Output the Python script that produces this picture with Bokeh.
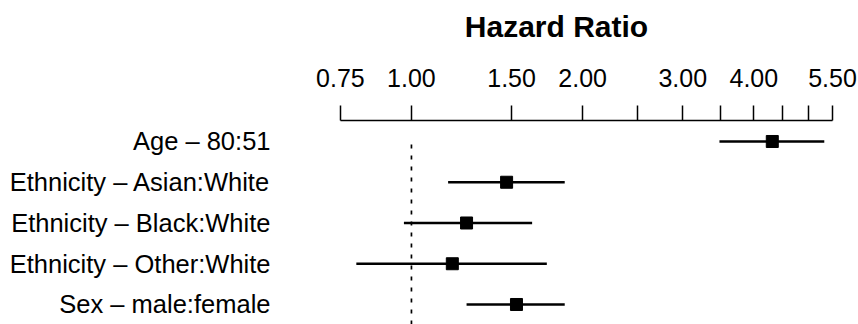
from bokeh.plotting import figure
from bokeh.models import Range1d, FixedTicker
from bokeh.embed import file_html
from bokeh.resources import INLINE

# ---- data ----
labels = ["Age – 80:51", "Ethnicity – Asian:White", "Ethnicity – Black:White",
          "Ethnicity – Other:White", "Sex – male:female"]
hr = [4.31, 1.47, 1.25, 1.18, 1.53]
lower = [3.48, 1.16, 0.97, 0.80, 1.25]
upper = [5.32, 1.86, 1.63, 1.73, 1.86]
tick_values = [0.75, 1.0, 1.5, 2.0, 2.5, 3.0, 3.5, 4.0, 4.5, 5.0, 5.5]
tick_labels = ["0.75", "1.00", "1.50", "2.00", "", "3.00", "", "4.00", "", "", "5.50"]
ref_value = 1.0

rows = list(range(len(labels), 0, -1))

FONT = "Liberation Sans"

p = figure(width=858, height=324, x_axis_type="log", x_axis_location="above",
           x_range=Range1d(0.5885, 5.5), y_range=Range1d(0.509, 5.515),
           min_border_left=280, min_border_right=26, min_border_top=120,
           min_border_bottom=0, output_backend="svg", toolbar_location=None)

p.xgrid.visible = False
p.ygrid.visible = False
p.outline_line_color = None
p.background_fill_color = "white"
p.border_fill_color = "white"

# reference line
p.segment(x0=[ref_value], y0=[0.509], x1=[ref_value], y1=[4.93],
          line_dash="4 7", line_width=1.7, line_color="black")

# confidence intervals
p.segment(x0=lower, y0=rows, x1=upper, y1=rows, line_width=2.6, line_color="black")
p.scatter(hr, rows, marker="square", size=12, fill_color="black", line_color="black")

# x axis (top)
xa = p.xaxis[0]
xa.ticker = FixedTicker(ticks=tick_values)
xa.major_label_overrides = dict(zip(tick_values, tick_labels))
xa.bounds = (0.75, 5.5)
xa.major_tick_in = 0
xa.major_tick_out = 15
xa.major_tick_line_width = 1.5
xa.axis_line_width = 1.5
xa.minor_tick_line_color = None
xa.major_label_text_font = FONT
xa.major_label_text_font_size = "25px"
xa.major_label_text_color = "black"
xa.major_label_standoff = 19
xa.axis_label = "Hazard Ratio"
xa.axis_label_text_font = FONT
xa.axis_label_text_font_size = "30px"
xa.axis_label_text_font_style = "bold"
xa.axis_label_text_color = "black"
xa.axis_label_standoff = 23

# y axis (labels)
ya = p.yaxis[0]
ya.ticker = FixedTicker(ticks=rows)
ya.major_label_overrides = dict(zip(rows, labels))
ya.axis_line_color = None
ya.major_tick_line_color = None
ya.minor_tick_line_color = None
ya.major_tick_in = 0
ya.major_tick_out = 0
ya.major_label_standoff = 10
ya.major_label_text_font = FONT
ya.major_label_text_font_size = "25.5px"
ya.major_label_text_color = "black"

open("out.html", "w").write(file_html(p, INLINE))
